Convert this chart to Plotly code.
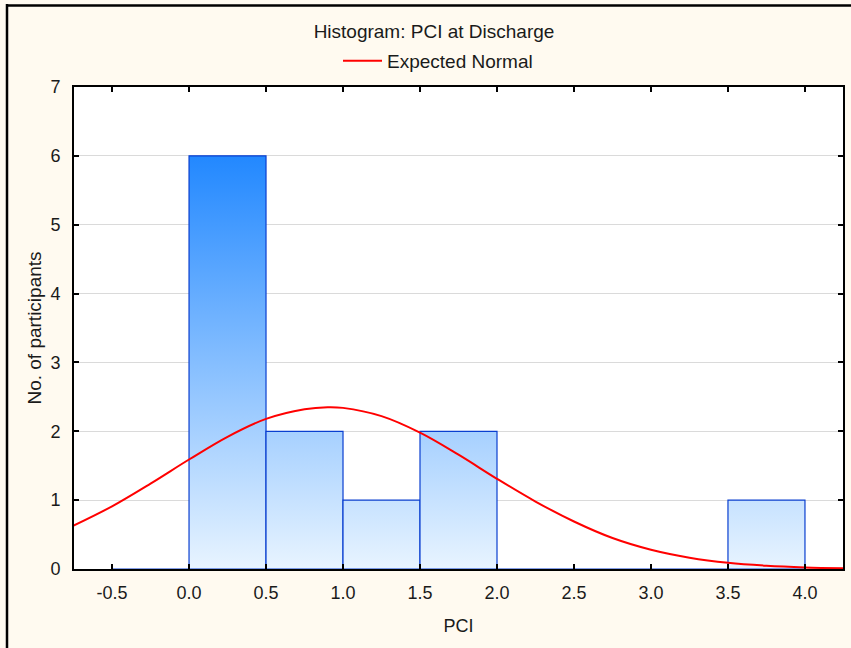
import plotly.graph_objects as go

# ---- data ----
bin_edges = [-0.5, 0.0, 0.5, 1.0, 1.5, 2.0, 2.5, 3.0, 3.5, 4.0]
counts = [0, 6, 2, 1, 2, 0, 0, 0, 1]

curve_x = [-0.75, -0.5, -0.25, 0.0, 0.25, 0.5, 0.75, 0.9, 1.0, 1.25, 1.5, 1.75,
           2.0, 2.25, 2.5, 2.75, 3.0, 3.25, 3.5, 3.75, 4.0, 4.25]
curve_y = [0.63, 0.91, 1.24, 1.59, 1.92, 2.18, 2.32, 2.35, 2.34, 2.22, 1.98, 1.66,
           1.31, 0.98, 0.69, 0.45, 0.28, 0.165, 0.09, 0.047, 0.023, 0.011]

x_ticks = [-0.5, 0.0, 0.5, 1.0, 1.5, 2.0, 2.5, 3.0, 3.5, 4.0]
y_ticks = [0, 1, 2, 3, 4, 5, 6, 7]

title_text = "Histogram: PCI at Discharge"
legend_name = "Expected Normal"
x_title = "PCI"
y_title = "No. of participants"

BG = "#FFFAF0"
FONT = "Liberation Sans, Arial, sans-serif"
FS = 18
FS_BIG = 19

fig = go.Figure()

# bars as gradient-filled polygons
for i, c in enumerate(counts):
    x0, x1 = bin_edges[i], bin_edges[i + 1]
    fig.add_trace(go.Scatter(
        x=[x0, x0, x1, x1, x0],
        y=[0, c, c, 0, 0],
        mode="lines",
        fill="toself",
        fillgradient=dict(type="vertical",
                          colorscale=[[0, "#E8F4FF"], [1, "#2288FF"]],
                          start=0, stop=6),
        line=dict(color="#0A3FD0", width=1.2),
        showlegend=False,
        hoverinfo="skip",
    ))

fig.add_trace(go.Scatter(
    x=curve_x, y=curve_y, mode="lines",
    line=dict(color="#FF0000", width=2, shape="spline", smoothing=1.0),
    name=legend_name, showlegend=True,
))

L, R, T, B = 74, 8, 87, 79
W, H = 851, 648
pw, ph = W - L - R, H - T - B

def px_to_paper_x(px):
    return (px - L) / pw

def px_to_paper_y(py):
    return (H - B - py) / ph

shapes = [
    # outer frame (left and top visible)
    dict(type="line", xref="paper", yref="paper",
         x0=px_to_paper_x(7), x1=px_to_paper_x(7),
         y0=px_to_paper_y(4), y1=px_to_paper_y(660),
         line=dict(color="black", width=2.5)),
    dict(type="line", xref="paper", yref="paper",
         x0=px_to_paper_x(6), x1=px_to_paper_x(860),
         y0=px_to_paper_y(5.5), y1=px_to_paper_y(5.5),
         line=dict(color="black", width=2.5)),
]

fig.update_layout(
    width=W, height=H,
    margin=dict(l=L, r=R, t=T, b=B, autoexpand=False),
    paper_bgcolor=BG,
    plot_bgcolor="white",
    font=dict(family=FONT, size=FS, color="#1a1a1a"),
    title=dict(text=title_text, x=434 / W, xref="container", xanchor="center",
               y=1 - 31 / H, yref="container", yanchor="middle",
               font=dict(size=FS_BIG, family=FONT, color="#1a1a1a")),
    legend=dict(orientation="h", x=338 / W, xref="container", xanchor="left",
                y=1 - 61 / H, yref="container", yanchor="middle",
                itemwidth=39,
                bgcolor="rgba(0,0,0,0)", font=dict(size=FS_BIG)),
    shapes=shapes,
    xaxis=dict(range=[-0.747, 4.247], tickvals=x_ticks,
               ticktext=[f"{v:.1f}" for v in x_ticks],
               showgrid=False, zeroline=False,
               showline=True, linecolor="black", linewidth=2, mirror="ticks",
               ticks="inside", ticklen=5, tickwidth=2, tickcolor="black",
               tickfont=dict(size=FS), ticklabelstandoff=6,
               title=dict(text=x_title, standoff=18, font=dict(size=FS))),
    yaxis=dict(range=[0, 7], tickvals=y_ticks,
               showgrid=True, gridcolor="#DADADA", gridwidth=1, zeroline=False,
               showline=True, linecolor="black", linewidth=2, mirror="ticks",
               ticks="inside", ticklen=5, tickwidth=2, tickcolor="black",
               tickfont=dict(size=FS), ticklabelstandoff=8,
               title=dict(text=y_title, standoff=4, font=dict(size=FS_BIG))),
)

fig.write_html("out.html",
               config={"displayModeBar": False},
               post_script="document.body.style.margin='0';document.body.style.overflow='hidden';")
